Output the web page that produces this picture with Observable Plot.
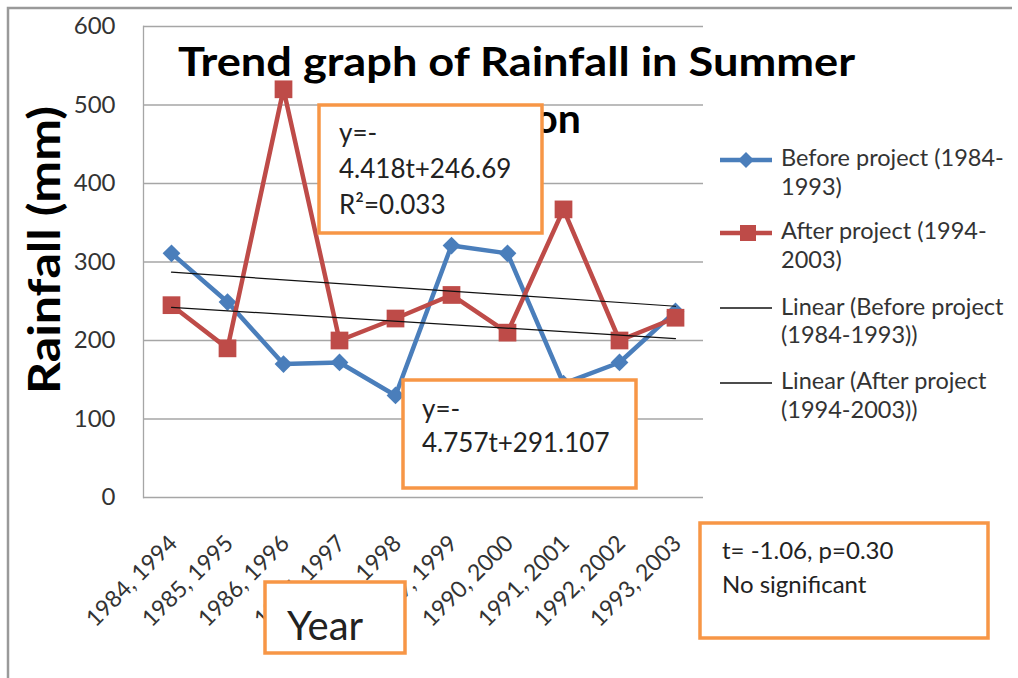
<!DOCTYPE html>
<html><head><meta charset="utf-8">
<script src="https://cdn.jsdelivr.net/npm/d3@7"></script>
<script src="https://cdn.jsdelivr.net/npm/@observablehq/plot@0.6"></script>
<style>
html,body{margin:0;padding:0;background:#fff;}
#chart{position:relative;width:1018px;height:678px;}
svg text{font-family:Lato,"Open Sans",sans-serif;}
</style></head><body><div id="chart"></div>
<script>
// ---- data ----
const years = ["1984, 1994","1985, 1995","1986, 1996","1987, 1997","1988, 1998",
               "1989, 1999","1990, 2000","1991, 2001","1992, 2002","1993, 2003"];
const beforeProject = [311, 249, 170, 172, 130, 321, 311, 145, 172, 237];
const afterProject  = [245, 190, 520, 200, 228, 258, 210, 367, 200, 229];
// trend lines: values at first and last year
const trendUpperEnds = [287, 243.6];
const trendLowerEnds = [242.3, 202.5];
const yTicks = [0, 100, 200, 300, 400, 500, 600];
const legendLines = [
  ["Before project (1984-", "1993)"],
  ["After project (1994-", "2003)"],
  ["Linear (Before project", "(1984-1993))"],
  ["Linear (After project", "(1994-2003))"]
];
const boxTexts1 = ["y=-", "4.418t+246.69", "R²=0.033"];
const boxTexts2 = ["y=-", "4.757t+291.107"];
const boxTexts3 = ["t= -1.06, p=0.30", "No significant"];
const titleLines = ["Trend graph of Rainfall in Summer", "Season"];

const blue = "#4a7ebb", red = "#be4b48", orange = "#f79646", grid = "#a6a6a6";

const beforeRows = years.map((y, i) => ({year: y, value: beforeProject[i]}));
const afterRows  = years.map((y, i) => ({year: y, value: afterProject[i]}));
const upperTrend = [{year: years[0], value: trendUpperEnds[0]}, {year: years[years.length-1], value: trendUpperEnds[1]}];
const lowerTrend = [{year: years[0], value: trendLowerEnds[0]}, {year: years[years.length-1], value: trendLowerEnds[1]}];

const plot = Plot.plot({
  width: 1018, height: 678,
  marginLeft: 143, marginRight: 315, marginTop: 26, marginBottom: 181,
  style: {fontFamily: "Lato, 'Open Sans', sans-serif", background: "white"},
  x: {type: "point", domain: years, padding: 0.5, axis: null},
  y: {domain: [0, 600], axis: null},
  marks: [
    Plot.ruleY(yTicks, {stroke: grid, strokeWidth: 1.3}),
    Plot.frame({anchor: "left", stroke: grid, strokeWidth: 1.3}),
    Plot.axisY(yTicks, {tickSize: 0, tickPadding: 28, fontSize: 24, fill: "#333", label: null}),
    Plot.text(years, {x: d => d, frameAnchor: "bottom", rotate: -45, textAnchor: "end",
      lineAnchor: "middle", dx: 2, dy: 42, fontSize: 23, fill: "#333"}),
    Plot.line(beforeRows, {x: "year", y: "value", stroke: blue, strokeWidth: 4.5}),
    Plot.dot(beforeRows, {x: "year", y: "value", symbol: "diamond2", r: 8, fill: blue}),
    Plot.line(afterRows, {x: "year", y: "value", stroke: red, strokeWidth: 4.5}),
    Plot.dot(afterRows, {x: "year", y: "value", symbol: "square", r: 10, fill: red}),
    Plot.line(upperTrend, {x: "year", y: "value", stroke: "#111", strokeWidth: 1.2}),
    Plot.line(lowerTrend, {x: "year", y: "value", stroke: "#111", strokeWidth: 1.2})
  ]
});
document.getElementById("chart").appendChild(plot);

// ---- overlay decorations ----
const svg = d3.select(plot);
const ov = svg.append("g").attr("class", "overlay").attr("text-anchor", "start");
// chart frame
ov.append("path").attr("d", "M8,678V8H1012").attr("fill", "none").attr("stroke", "#9a9a9a").attr("stroke-width", 2.5);

// title
ov.append("text").attr("x", 178).attr("y", 76).attr("font-size", 41).attr("font-weight", 700)
  .attr("fill", "#000").attr("text-anchor", "start")
  .attr("textLength", 677).attr("lengthAdjust", "spacingAndGlyphs").text(titleLines[0]);
ov.append("text").attr("x", 516).attr("y", 133).attr("font-size", 41).attr("font-weight", 700)
  .attr("fill", "#000").attr("text-anchor", "middle").text(titleLines[1]);

// y label
ov.append("text").attr("transform", "translate(60,250) rotate(-90)").attr("text-anchor", "middle")
  .attr("font-size", 44).attr("font-weight", 700).attr("fill", "#000")
  .attr("textLength", 288).attr("lengthAdjust", "spacingAndGlyphs").text("Rainfall (mm)");

// legend
const legY = [160, 233, 308, 383];
const legBase = [[166, 195], [239, 268], [315, 343], [389, 418]];
legY.forEach((y, i) => {
  const isData = i < 2;
  ov.append("line").attr("x1", 720).attr("x2", 772).attr("y1", y).attr("y2", y)
    .attr("stroke", i === 0 ? blue : i === 1 ? red : "#111").attr("stroke-width", isData ? 4.5 : 1.5);
  if (i === 0) ov.append("path").attr("d", `M746,${y-8}L754,${y}L746,${y+8}L738,${y}Z`).attr("fill", blue);
  if (i === 1) ov.append("rect").attr("x", 740).attr("y", y-8).attr("width", 16).attr("height", 16).attr("fill", red);
  legendLines[i].forEach((t, j) => {
    ov.append("text").attr("x", 781).attr("y", legBase[i][j]).attr("font-size", 23.5)
      .attr("text-anchor", "start").attr("fill", "#333").text(t);
  });
});

function box(x, y, w, h, lines, tx, baselines, fs) {
  ov.append("rect").attr("x", x).attr("y", y).attr("width", w).attr("height", h)
    .attr("fill", "white").attr("stroke", orange).attr("stroke-width", 3.5);
  lines.forEach((t, i) => ov.append("text").attr("x", tx).attr("y", baselines[i])
    .attr("font-size", fs).attr("text-anchor", "start").attr("fill", "#222").text(t));
}
box(319, 105, 223, 128, boxTexts1, 339, [142, 178, 214], 26);
box(403, 380, 233, 108, boxTexts2, 422, [418, 452], 26);
box(700, 523, 288, 115, boxTexts3, 722, [559, 593], 24);
box(265, 582, 140, 71, ["Year"], 287, [640], 40);
</script></body></html>
